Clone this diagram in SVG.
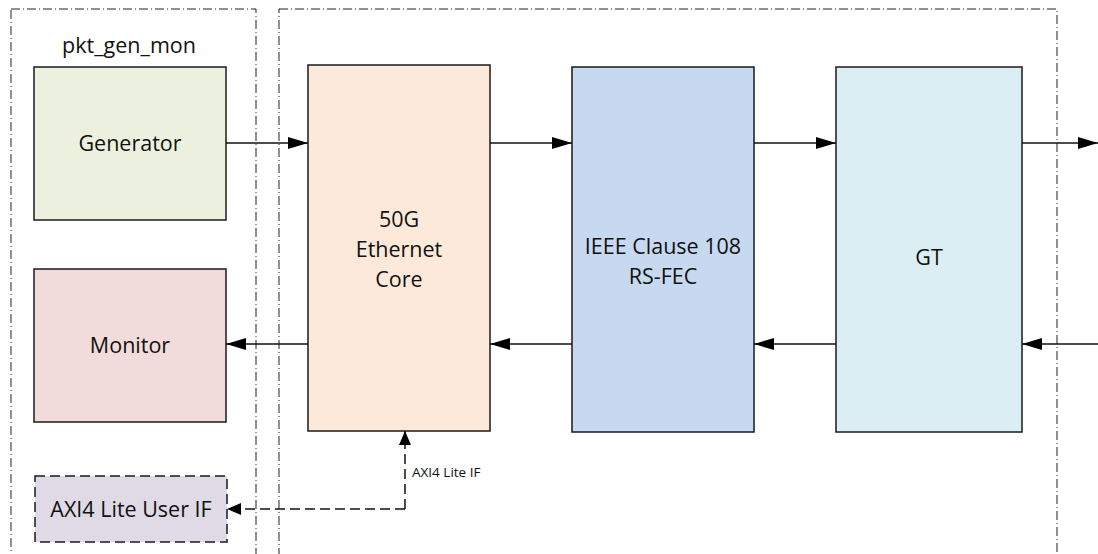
<svg xmlns="http://www.w3.org/2000/svg" width="1098" height="554" viewBox="0 0 1098 554">
<style>
.grp{fill:none;stroke:#222;stroke-width:1;stroke-dasharray:9 3 1 3}
.blk{stroke:#1a1a1a;stroke-width:1.5}
.t{font-family:"Open Sans","Liberation Sans",sans-serif;font-size:21.5px;fill:#111;text-anchor:middle}
.s{font-family:"Open Sans","Liberation Sans",sans-serif;font-size:13.5px;fill:#111}
.ln{fill:none;stroke:#111;stroke-width:1.5}
.dl{fill:none;stroke:#111;stroke-width:1.5;stroke-dasharray:10 5}
</style>
<defs>
<marker id="ah" viewBox="0 0 20 12" refX="20" refY="6" markerWidth="20" markerHeight="12" markerUnits="userSpaceOnUse" orient="auto">
<path d="M0,0 L20,6 L0,12 Z" fill="#000"/>
</marker>
<marker id="ahs" viewBox="0 0 14 12" refX="14" refY="6" markerWidth="14" markerHeight="12" markerUnits="userSpaceOnUse" orient="auto">
<path d="M0,0 L14,6 L0,12 Z" fill="#000"/>
</marker>
</defs>
<rect width="1098" height="554" fill="#fff"/>
<g id="group-left"><rect class="grp" x="11" y="9" width="245" height="560"/><text class="t" x="129" y="53">pkt_gen_mon</text></g>
<g id="group-right"><rect class="grp" x="279" y="9" width="778" height="560"/></g>
<g id="generator"><rect class="blk" x="34" y="67" width="192" height="153" fill="#EBF1DE"/><text class="t" x="130" y="151">Generator</text></g>
<g id="monitor"><rect class="blk" x="34" y="269" width="192" height="153" fill="#F2DCDB"/><text class="t" x="130" y="353">Monitor</text></g>
<g id="axi-user"><rect x="35" y="476" width="192" height="66" fill="#DFDAE6" stroke="#1a1a1a" stroke-width="1.5" stroke-dasharray="10 5"/><text class="t" x="131" y="517">AXI4 Lite User IF</text></g>
<g id="eth-core"><rect class="blk" x="308" y="65" width="182" height="366" fill="#FCE9DA"/><text class="t" x="399" y="227">50G</text><text class="t" x="399" y="257">Ethernet</text><text class="t" x="399" y="287">Core</text></g>
<g id="rsfec"><rect class="blk" x="572" y="67" width="182" height="365" fill="#C6D9F0"/><text class="t" x="663" y="254">IEEE Clause 108</text><text class="t" x="663" y="284">RS-FEC</text></g>
<g id="gt"><rect class="blk" x="836" y="67" width="186" height="365" fill="#DBEEF3"/><text class="t" x="929" y="265">GT</text></g>
<g id="connectors">
<line class="ln" x1="226" y1="143" x2="308" y2="143" marker-end="url(#ah)"/>
<line class="ln" x1="490" y1="143" x2="572" y2="143" marker-end="url(#ah)"/>
<line class="ln" x1="754" y1="143" x2="836" y2="143" marker-end="url(#ah)"/>
<line class="ln" x1="1022" y1="143" x2="1098" y2="143" marker-end="url(#ah)"/>
<line class="ln" x1="1098" y1="344" x2="1022" y2="344" marker-end="url(#ah)"/>
<line class="ln" x1="836" y1="344" x2="754" y2="344" marker-end="url(#ah)"/>
<line class="ln" x1="572" y1="344" x2="490" y2="344" marker-end="url(#ah)"/>
<line class="ln" x1="308" y1="344" x2="226" y2="344" marker-end="url(#ah)"/>
<path class="dl" d="M405,509 L405,431" marker-end="url(#ahs)"/>
<path class="dl" d="M405,509 L227,509" marker-end="url(#ahs)"/>
<text class="s" x="412" y="477">AXI4 Lite IF</text>
</g>
</svg>
